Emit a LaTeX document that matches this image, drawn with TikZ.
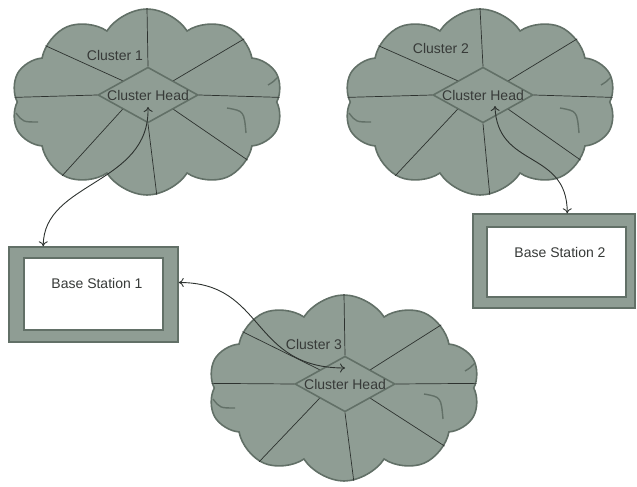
\documentclass[tikz,border=0pt]{standalone}
\usepackage{fontspec}
\setmainfont{Liberation Sans}
\usetikzlibrary{shapes.geometric, shapes.symbols, arrows.meta}
\definecolor{puff}{RGB}{143,157,148}
\definecolor{puffedge}{RGB}{98,112,103}
\definecolor{spoke}{RGB}{45,50,47}
\definecolor{ink}{RGB}{55,58,56}

\begin{document}
\begin{tikzpicture} [x=1pt, y=-1pt, font=\fontsize{14}{16}\selectfont,
  cluster/.style = {cloud, draw=puffedge, line width=1.6pt, fill=puff, cloud puffs=10, cloud puff arc=115, minimum width=272pt, minimum height=186pt, inner sep=0pt},
  head/.style = {diamond, draw=puffedge, line width=1.6pt, fill=puff, aspect=1.8, inner sep=0pt, text=ink},
  station/.style = {rectangle, draw=puffedge, line width=1.5pt, fill=puff},
  hole/.style = {rectangle, draw=puffedge, line width=1.5pt, fill=white},
  link/.style = {{To[length=5pt,width=9pt]}-{To[length=5pt,width=9pt]}, spoke, line width=0.9pt},
  creases/.pic = {
    \draw[puffedge, line width=1.4pt] (-131,11) .. controls (-124,20) .. (-109,20);
    \draw[puffedge, line width=1.4pt] (80,6) .. controls (97,9) .. (99,31);
    \draw[puffedge, line width=1.4pt] (131,-25) .. controls (126,-20) .. (121,-17);
  }]
\useasboundingbox (0,0) rectangle (637,487);

% the three clusters
\node[cluster] (c1) at (147,102) {};
\node[cluster] (c2) at (480,102) {};
\node[cluster] (c3) at (344,388) {};
\pic at (c1) {creases};
\pic at (c2) {creases};
\pic at (c3) {creases};

\node[head] (ch1) at (148,95) {Cluster Head};
\node[head] (ch2) at (483,95) {Cluster Head};
\node[head] (ch3) at (345,384) {Cluster Head};

\node[text=ink] (l1) at (115,55) {Cluster 1};
\node[text=ink] (l2) at (441,48) {Cluster 2};
\node[text=ink] (l3) at (314,344) {Cluster 3};

\foreach \k in {1,2,3}
  \foreach \a/\b in {north/90, north east/33, east/2, south east/-30, south/-84, south west/-139, west/178, north west/151}
    \draw[spoke, line width=0.7pt] (ch\k.\a) -- (c\k.\b);

% base stations
\node[station, minimum width=169pt, minimum height=95pt] (bs1) at (93.5,294.5) {};
\node[hole, minimum width=139pt, minimum height=72pt] (bs1in) at (93.5,294) {};
\node[text=ink] (bs1t) at (97,283) {Base Station 1};

\node[station, minimum width=162pt, minimum height=94pt] (bs2) at (554,261) {};
\node[hole, minimum width=139pt, minimum height=70pt] (bs2in) at (556.5,262) {};
\node[text=ink] (bs2t) at (560,252) {Base Station 2};

\draw[link] ([xshift=35pt]bs1.north west) .. controls +(0,-65) and +(2,78) .. ([yshift=-12pt]ch1.center);
\draw[link] ([xshift=12pt,yshift=-11pt]ch2.center) .. controls +(2,63) and +(0,-64) .. ([xshift=95pt]bs2.north west);
\draw[link] ([yshift=12pt]bs1.east) .. controls +(87,0) and +(-95,0) .. ([yshift=16pt]ch3.center);
\end{tikzpicture}
\end{document}
